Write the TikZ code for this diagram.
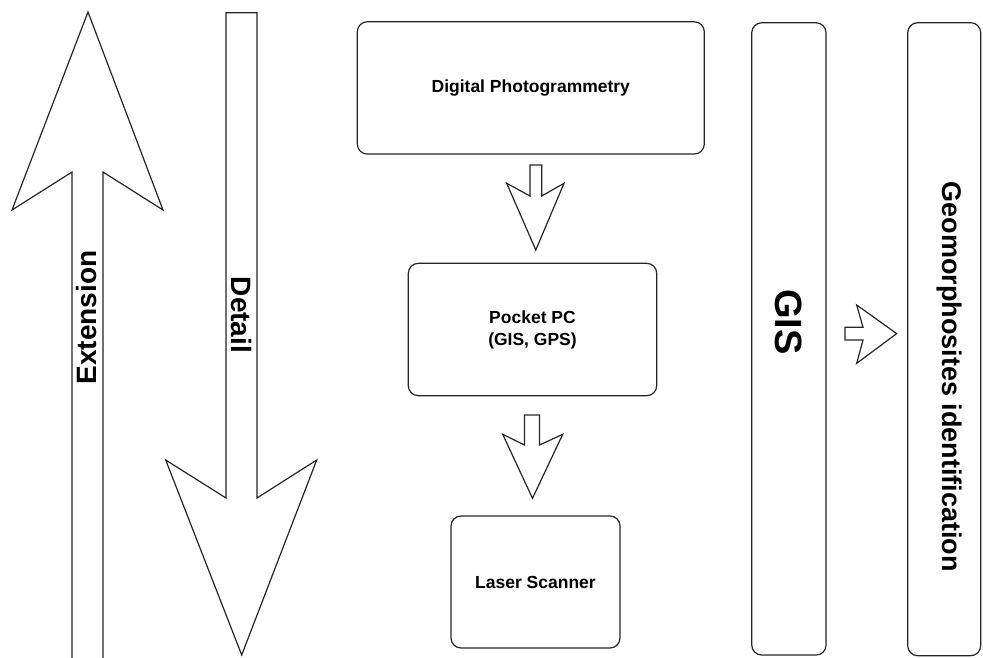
\documentclass[tikz,border=0pt]{standalone}
\usepackage{fontspec}
\setmainfont{Liberation Sans}
\begin{document}
\begin{tikzpicture}[x=1pt,y=-1pt,
  line width=1.2pt, line join=miter,
  box/.style={draw=black!85, rounded corners=10pt, inner sep=0pt, font=\bfseries\fontsize{17.5}{22}\selectfont, align=center},
  bar/.style={draw=black!85, rounded corners=10pt, inner sep=0pt},
  blockarrow/.style={draw=black!85, fill=white},
  vlabel/.style={font=\bfseries\fontsize{28}{32}\selectfont, inner sep=0pt}]
\useasboundingbox (0,0) rectangle (983,657);
% big arrows
\draw[blockarrow] (72,665) -- (72,172) -- (12,210) -- (88,12) -- (163,210) -- (103,172) -- (103,665) -- cycle;
\draw[blockarrow] (241.5,12.7) -- (226,12.7) [rounded corners=0pt] -- (226,498) -- (165.7,460) -- (241.7,655) -- (316.7,460) -- (257,498) -- (257,12.7) -- cycle;
\node[vlabel, rotate=90] (ext) at (86.7,317.5) {Extension};
\node[vlabel, rotate=-90] (det) at (241.7,315) {Detail};
% boxes
\node[box, minimum width=347pt, minimum height=132.3pt] (dp) at (530.8,87.9) {Digital Photogrammetry};
\node[box, minimum width=248.4pt, minimum height=132.4pt] (ppc) at (532.5,329.5) {Pocket PC\\(GIS, GPS)};
\node[box, minimum width=169pt, minimum height=132pt] (ls) at (535.5,582) {Laser Scanner};
\node[bar, minimum width=74.3pt, minimum height=632.3pt] (gis) at (788.9,338.9) {};
\node[bar, minimum width=73pt, minimum height=633pt] (geo) at (944.2,339.2) {};
\node[font=\bfseries\fontsize{38}{40}\selectfont, rotate=-90, inner sep=0pt] (gistext) at (789,322) {GIS};
\node[font=\bfseries\fontsize{27}{30}\selectfont, rotate=-90, inner sep=0pt] (geotext) at (949,376.5) {Geomorphosites identification};
% small block arrows
\draw[blockarrow] (530,165) -- (530,196) -- (506.7,183.3) -- (535.8,250) -- (564,183.3) -- (541.7,196) -- (541.7,165) -- cycle;
\draw[blockarrow] (524.5,415) -- (524.5,445) -- (502.7,434.3) -- (532.5,498.3) -- (562.7,434.3) -- (539.5,445) -- (539.5,415) -- cycle;
\draw[blockarrow] (845,327.3) -- (863,327.3) -- (856.7,305) -- (896.7,333.6) -- (856.7,363.3) -- (863,340) -- (845,340) -- cycle;
\end{tikzpicture}
\end{document}
